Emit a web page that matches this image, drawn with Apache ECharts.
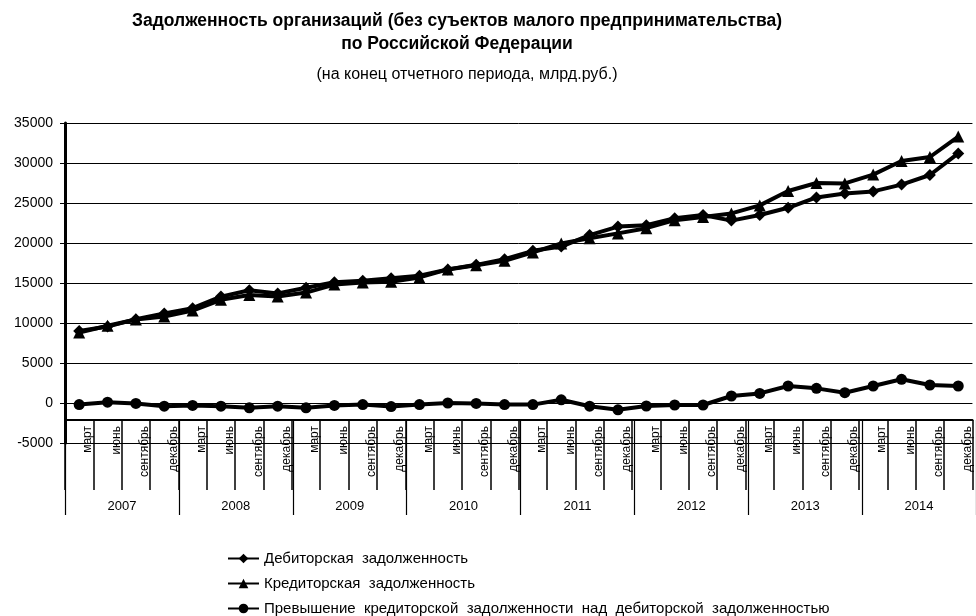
<!DOCTYPE html>
<html>
<head>
<meta charset="utf-8">
<script src="https://cdn.jsdelivr.net/npm/echarts@6/dist/echarts.min.js"></script>
<style>html,body{margin:0;padding:0;background:#fff}#c{width:976px;height:616px}</style>
</head>
<body>
<div id="c"></div>
<script>
const months = ['март','июнь','сентябрь','декабрь'];
const years = ['2007','2008','2009','2010','2011','2012','2013','2014'];
const debitor = [9000, 9550, 10480, 11200, 11850, 13300, 14100, 13700, 14400, 15100, 15270, 15600, 15900, 16700, 17270, 17980, 19020, 19550, 20990, 22050, 22230, 23100, 23500, 22800, 23500, 24400, 25700, 26200, 26450, 27300, 28500, 31200];
const kreditor = [8800, 9650, 10430, 10800, 11550, 12900, 13500, 13300, 13800, 14800, 15070, 15150, 15700, 16700, 17220, 17780, 18820, 19950, 20590, 21200, 21850, 22850, 23250, 23700, 24700, 26500, 27500, 27450, 28550, 30250, 30750, 33300];
const excess = [-200, 100, -50, -400, -300, -400, -600, -400, -600, -300, -200, -450, -200, 0, -50, -200, -200, 400, -400, -850, -375, -250, -250, 875, 1200, 2125, 1830, 1290, 2125, 2960, 2250, 2125];
const seriesNames = ['Дебиторская  задолженность','Кредиторская  задолженность','Превышение  кредиторской  задолженности  над  дебиторской  задолженностью'];

const monthCats = [];
years.forEach(() => months.forEach(m => monthCats.push(m)));

const font = 'Liberation Sans, Arial, sans-serif';
const chart = echarts.init(document.getElementById('c'));
const gridBox = {left: 65, top: 123, bottom: 173, right: -12.5};
const lineSeries = (name, data, symbol, size) => ({
  name, type: 'line', data, symbol, symbolSize: size,
  xAxisIndex: 0, yAxisIndex: 0,
  lineStyle: {color: '#000', width: 4},
  itemStyle: {color: '#000'},
  showAllSymbol: true, animation: false
});
const legendTops = [546, 571, 596];
chart.setOption({
  animation: false,
  textStyle: {fontFamily: font},
  title: [
    {text: 'Задолженность организаций (без суъектов малого предпринимательства)\nпо Российской Федерации',
     left: 452, top: 5, textAlign: 'center',
     textStyle: {fontFamily: font, fontSize: 17.5, fontWeight: 'bold', color: '#000', lineHeight: 23}},
    {text: '(на конец отчетного периода, млрд.руб.)',
     left: 462, top: 62, textAlign: 'center',
     textStyle: {fontFamily: font, fontSize: 16, fontWeight: 'normal', color: '#000'}}
  ],
  grid: [Object.assign({}, gridBox), Object.assign({}, gridBox)],
  legend: seriesNames.map((n, i) => ({
    orient: 'vertical', left: 222, top: legendTops[i], itemWidth: 31, itemHeight: 12,
    data: [n], selectedMode: false,
    textStyle: {fontFamily: font, fontSize: 15, color: '#000'}
  })),
  xAxis: [
    {type: 'category', gridIndex: 0, data: monthCats, position: 'bottom', offset: -23,
     axisLine: {onZero: false, lineStyle: {color: '#000', width: 2}},
     axisTick: {show: true, interval: 0, length: 70, lineStyle: {color: '#000', width: 1.5}},
     axisLabel: {interval: 0, rotate: 90, fontSize: 12, color: '#000', margin: 6, verticalAlign: 'top', lineHeight: 18, fontFamily: font},
     splitLine: {show: false}},
    {type: 'category', gridIndex: 1, data: years, position: 'bottom', offset: -23,
     axisLine: {show: false, onZero: false},
     axisTick: {show: true, interval: 0, length: 95, lineStyle: {color: '#000', width: 1.2}},
     axisLabel: {interval: 0, fontSize: 13, color: '#000', margin: 80, fontFamily: font},
     splitLine: {show: false}}
  ],
  yAxis: [
    {type: 'value', gridIndex: 0, min: -5000, max: 35000, interval: 5000,
     axisLine: {show: true, lineStyle: {color: '#000', width: 3}},
     axisTick: {show: true, inside: false, length: 5, lineStyle: {color: '#000', width: 1}},
     axisLabel: {fontSize: 14, color: '#000', margin: 12, fontFamily: font, formatter: v => String(v)},
     splitLine: {show: true, lineStyle: {color: '#000', width: 1}}},
    {type: 'value', gridIndex: 1, min: -5000, max: 35000, show: false, splitLine: {show: false}}
  ],
  series: [
    lineSeries(seriesNames[0], debitor, 'diamond', 12),
    lineSeries(seriesNames[1], kreditor, 'triangle', 12),
    lineSeries(seriesNames[2], excess, 'circle', 11)
  ]
});
</script>
</body>
</html>
